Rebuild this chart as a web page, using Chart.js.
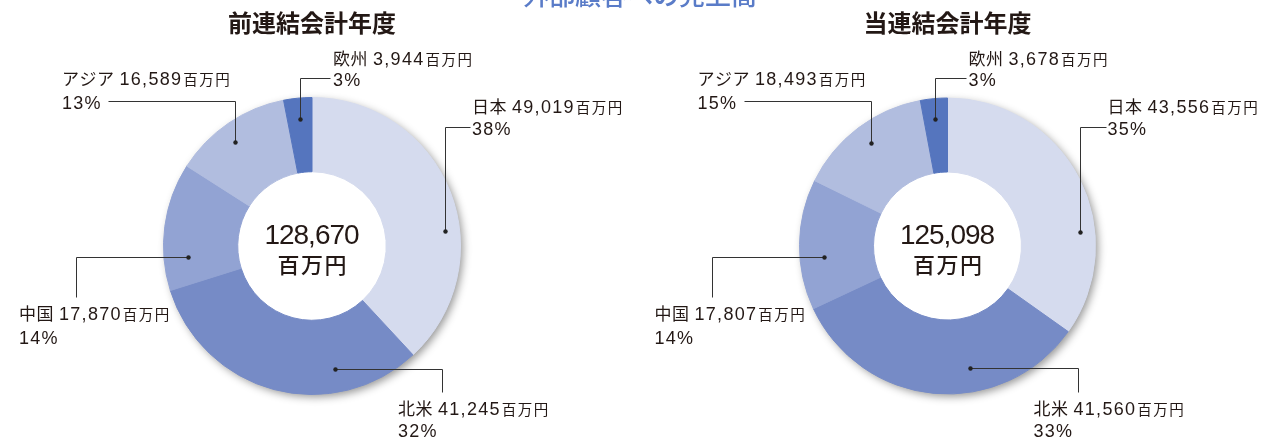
<!DOCTYPE html>
<html><head><meta charset="utf-8">
<script src="https://cdn.jsdelivr.net/npm/chart.js@4"></script>
<style>
html,body{margin:0;padding:0;background:#fff;}
#wrap{position:relative;width:1267px;height:437px;overflow:hidden;}
canvas{position:absolute;left:0;top:0;}
</style>
</head><body>
<div id="wrap"><canvas id="c1" width="1267" height="437"></canvas><canvas id="c2" width="1267" height="437"></canvas></div>
<script>
const headline = '外部顧客への売上高';
const chartTitles = ['前連結会計年度', '当連結会計年度'];
const regions = ['日本', '北米', '中国', 'アジア', '欧州'];
const prevValues = [49019, 41245, 17870, 16589, 3944];
const currValues = [43556, 41560, 17807, 18493, 3678];
const prevPercents = [38, 32, 14, 13, 3];
const currPercents = [35, 33, 14, 15, 3];
const prevTotal = 128670;
const currTotal = 125098;
const unit = '百万円';

const colors = ['#d5dbee', '#768bc6', '#92a3d3', '#b1bddf', '#5575be'];
// leader anchor: fraction along each slice, and fraction of outer radius
const prevAnchors = [0.61, 0.28, 0.25, 0.45, 0.5];
const currAnchors = [0.67, 0.37, 0.39, 0.51, 0.47];
const radialFrac = [0.90, 0.84, 0.84, 0.87, 0.86];
// label layout relative to donut centre
const labelLayout = [
  {type:'vh', ex:158, ey:-119, tx:160, ty1:-140, ty2:-118},
  {type:'hv', ex:130, ey:146, tx:86, ty1:162, ty2:184},
  {type:'hv', ex:-236, ey:51, tx:-293, ty1:67, ty2:91},
  {type:'vh', ex:-204, ey:-145, tx:-250, ty1:-168, ty2:-144},
  {type:'vh', ex:18, ey:-168, tx:21, ty1:-188, ty2:-167}
];

const CJK = '"Noto Sans CJK JP", "Noto Sans CJK SC", sans-serif';
const LAT = '"Liberation Sans", Arial, sans-serif';
const INK = '#231815';

function fmt(n){ return n.toLocaleString('en-US'); }
function spacedWidth(ctx, text, sp){
  let w = 0;
  for (const ch of text) w += ctx.measureText(ch).width + sp;
  return w - sp;
}
function drawSpaced(ctx, text, x, y, sp){
  for (const ch of text){ ctx.fillText(ch, x, y); x += ctx.measureText(ch).width + sp; }
  return x;
}

function makePlugin(values, total, pcts, anchors, title, withHeadline){
  return {
    id:'annot',
    beforeDatasetsDraw(chart){
      const ctx = chart.ctx;
      const arc = chart.getDatasetMeta(0).data[0];
      ctx.save();
      ctx.shadowColor = 'rgba(0,0,0,0.42)';
      ctx.shadowBlur = 8;
      ctx.shadowOffsetX = 3;
      ctx.shadowOffsetY = 3;
      ctx.beginPath();
      ctx.arc(arc.x, arc.y, arc.outerRadius - 0.5, 0, Math.PI * 2);
      ctx.fillStyle = '#ffffff';
      ctx.fill();
      ctx.restore();
    },
    afterDatasetsDraw(chart){
      const ctx = chart.ctx;
      const meta = chart.getDatasetMeta(0);
      const cx = meta.data[0].x, cy = meta.data[0].y;
      ctx.save();
      ctx.textAlign = 'left';
      ctx.textBaseline = 'alphabetic';
      if (withHeadline){
        ctx.font = '500 26px ' + CJK;
        ctx.fillStyle = '#5a7cc8';
        ctx.textAlign = 'center';
        ctx.fillText(headline, 640, 5);
        ctx.textAlign = 'left';
      }
      ctx.font = 'bold 24px ' + CJK;
      ctx.fillStyle = INK;
      ctx.textAlign = 'center';
      ctx.fillText(title, cx, 32);
      ctx.textAlign = 'left';
      ctx.font = '28px ' + LAT;
      let s = fmt(total);
      let w = spacedWidth(ctx, s, -1);
      drawSpaced(ctx, s, cx - w / 2, cy - 2, -1);
      ctx.font = '500 22px ' + CJK;
      w = spacedWidth(ctx, unit, 1.5);
      drawSpaced(ctx, unit, cx - w / 2, cy + 27, 1.5);
      meta.data.forEach((a, i) => {
        const L = labelLayout[i];
        const ang = a.startAngle + anchors[i] * (a.endAngle - a.startAngle);
        const r = radialFrac[i] * a.outerRadius;
        const dx = Math.round(cx + Math.cos(ang) * r) + 0.5;
        const dy = Math.round(cy + Math.sin(ang) * r) + 0.5;
        const ex = Math.round(cx + L.ex) + 0.5, ey = Math.round(cy + L.ey) + 0.5;
        ctx.strokeStyle = '#333';
        ctx.lineWidth = 1;
        ctx.beginPath();
        ctx.moveTo(dx, dy);
        if (L.type === 'vh'){ ctx.lineTo(dx, ey); ctx.lineTo(ex, ey); }
        else { ctx.lineTo(ex, dy); ctx.lineTo(ex, ey); }
        ctx.stroke();
        ctx.fillStyle = '#222';
        ctx.beginPath();
        ctx.arc(dx, dy, 2.2, 0, Math.PI * 2);
        ctx.fill();
        ctx.fillStyle = INK;
        const tx = cx + L.tx;
        const b1 = cy + L.ty1 + 6.5, b2 = cy + L.ty2 + 6.5;
        ctx.font = '17px ' + CJK;
        let x = drawSpaced(ctx, regions[i], tx, b1, 0.5);
        x += 5;
        ctx.font = '18px ' + LAT;
        x = drawSpaced(ctx, fmt(values[i]), x, b1, 1.3) + 1;
        ctx.font = '14.5px ' + CJK;
        drawSpaced(ctx, unit, x, b1, 1.5);
        ctx.font = '18px ' + LAT;
        drawSpaced(ctx, pcts[i] + '%', tx, b2, 1.2);
      });
      ctx.restore();
    }
  };
}

function makeChart(id, values, total, pcts, anchors, title, padding, withHeadline){
  return new Chart(document.getElementById(id), {
    type: 'doughnut',
    data: {
      labels: regions,
      datasets: [{data: values, backgroundColor: colors, borderColor: colors, borderWidth: 1, hoverOffset: 0}]
    },
    options: {
      responsive: false,
      animation: false,
      cutout: '50%',
      events: [],
      layout: {padding: padding},
      plugins: {legend: {display: false}, tooltip: {enabled: false}, title: {display: false}}
    },
    plugins: [makePlugin(values, total, pcts, anchors, title, withHeadline)]
  });
}

makeChart('c1', prevValues, prevTotal, prevPercents, prevAnchors, chartTitles[0],
  {left:163, right:806, top:97, bottom:42}, true);
makeChart('c2', currValues, currTotal, currPercents, currAnchors, chartTitles[1],
  {left:799, right:171, top:97, bottom:42}, false);
</script>
</body></html>
